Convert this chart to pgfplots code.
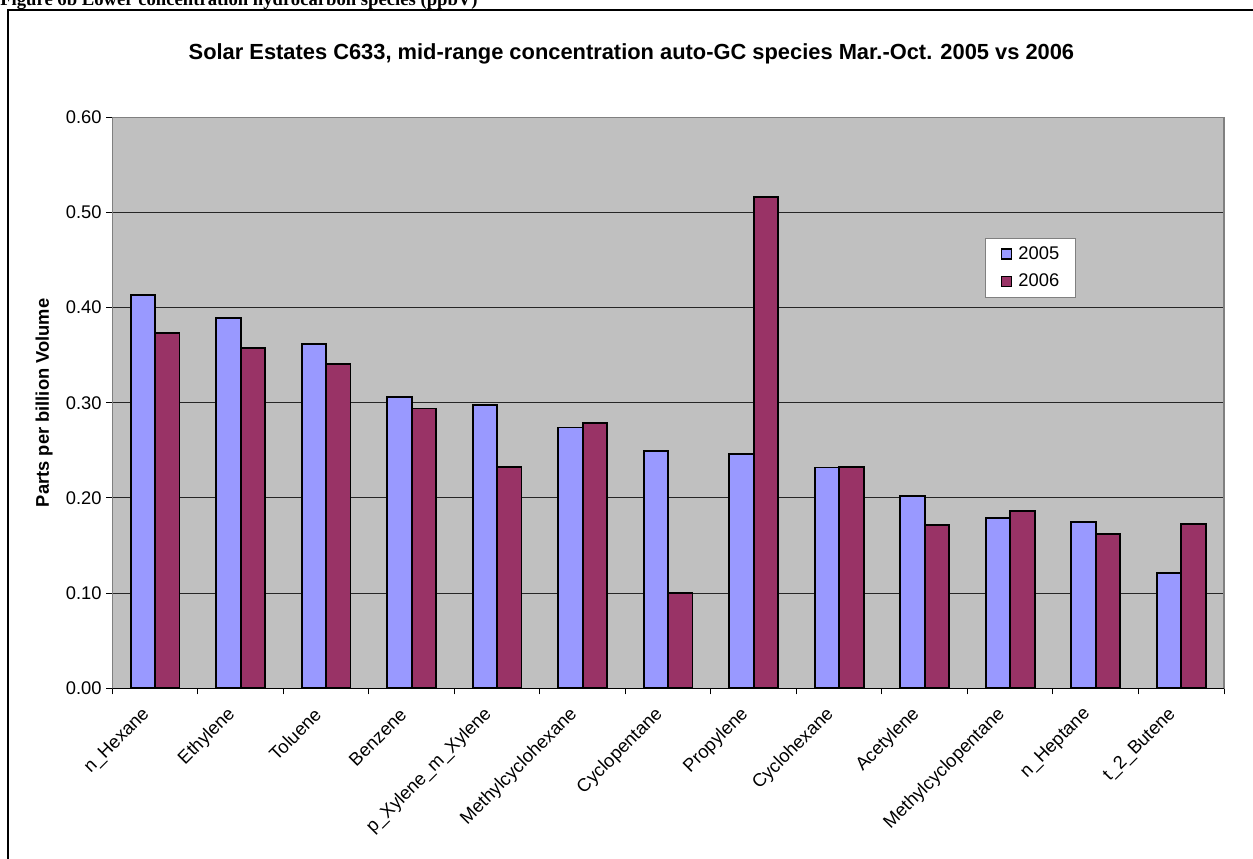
\documentclass[border=0pt]{standalone}
\usepackage{fontspec}
\setmainfont{Liberation Sans}
\newfontfamily\capfont{Liberation Serif}
\usepackage{pgfplots}
\pgfplotsset{compat=1.18}
\definecolor{plotgray}{HTML}{C0C0C0}
\definecolor{periwinkle}{HTML}{9999FF}
\definecolor{plum}{HTML}{993366}
\newcommand{\chartfont}{\fontsize{13.75}{16}\selectfont}

\begin{document}
\begin{tikzpicture}
% caption of the figure and the chart frame (pixel-like units, y downwards)
\begin{scope}[x=0.75pt,y=-0.75pt]
  \node[anchor=base west, inner sep=0pt, font=\capfont\bfseries\fontsize{14}{16}\selectfont]
    at (0,5.5) {Figure 6b Lower concentration hydrocarbon species (ppbV)};
  \draw[line width=1.5pt] (8.2,10) rectangle (1300,920);
\end{scope}

\begin{axis}[
  at={(84.225pt,-516.225pt)}, anchor=south west,
  width=833.78pt, height=428.25pt, scale only axis,
  xmin=-0.5, xmax=12.5, ymin=0, ymax=0.6,
  ybar=0pt, bar width=18.3pt,
  axis background/.style={fill=plotgray},
  axis line style={draw=gray, line width=1.1pt},
  ymajorgrids, grid style={black!85, line width=0.75pt},
  ytick={0,0.1,0.2,0.3,0.4,0.5,0.6},
  yticklabel style={/pgf/number format/.cd, fixed, fixed zerofill, precision=2},
  /pgf/number format/assume math mode=true,
  xtick={0,1,2,3,4,5,6,7,8,9,10,11,12},
  xticklabels={n\_Hexane, Ethylene, Toluene, Benzene, p\_Xylene\_m\_Xylene,
    Methylcyclohexane, Cyclopentane, Propylene, Cyclohexane, Acetylene,
    Methylcyclopentane, n\_Heptane, t\_2\_Butene},
  major x tick style={draw=none},
  minor xtick={-0.5,0.5,1.5,2.5,3.5,4.5,5.5,6.5,7.5,8.5,9.5,10.5,11.5,12.5},
  tick pos=left,
  tick align=outside,
  tick style={black, line width=0.75pt},
  major tick length=4.5pt, minor tick length=4.5pt,
  ticklabel style={font=\chartfont},
  xticklabel style={xshift=-3.75pt, yshift=-10.5pt, rotate=45, anchor=east},
  title={\bfseries Solar Estates C633, mid-range concentration auto-GC species Mar.-Oct. 2005 vs 2006},
  every axis title shift=0pt,
  title style={font=\fontsize{16.4}{19}\selectfont, at={(axis description cs:0.467,1.1016)}, anchor=base},
  ylabel={Parts per billion Volume},
  ylabel style={font=\chartfont\bfseries, at={(axis description cs:-0.0614,0.5)}, anchor=center},
  legend style={at={(axis description cs:0.785,0.7886)}, anchor=north west,
    draw=gray, fill=white, font=\chartfont,
    nodes={inner sep=0pt}, column sep=4.5pt, row sep=9.5pt,
    inner xsep=12pt, inner ysep=6.3pt},
  legend cell align=left,
]
\addplot[fill=periwinkle, draw=black, line width=1.4pt,
  legend image code/.code={\draw[fill=periwinkle, draw=black, line width=0.9pt] (0pt,-3.75pt) rectangle (7.5pt,3.75pt);}]
  coordinates {(0,0.413) (1,0.389) (2,0.362) (3,0.306) (4,0.298) (5,0.274) (6,0.249)
               (7,0.246) (8,0.232) (9,0.202) (10,0.179) (11,0.175) (12,0.121)};
\addplot[fill=plum, draw=black, line width=1.4pt,
  legend image code/.code={\draw[fill=plum, draw=black, line width=0.9pt] (0pt,-3.75pt) rectangle (7.5pt,3.75pt);}]
  coordinates {(0,0.373) (1,0.358) (2,0.341) (3,0.294) (4,0.233) (5,0.279) (6,0.100)
               (7,0.516) (8,0.233) (9,0.172) (10,0.186) (11,0.162) (12,0.173)};
\legend{2005,2006}
% black category axis along the bottom
\draw[black, line width=1.1pt] (rel axis cs:0,0) -- (rel axis cs:1,0);
\end{axis}

\pgfresetboundingbox
\path[use as bounding box] (0pt,0pt) rectangle (939.75pt,-644.25pt);
\end{tikzpicture}
\end{document}
